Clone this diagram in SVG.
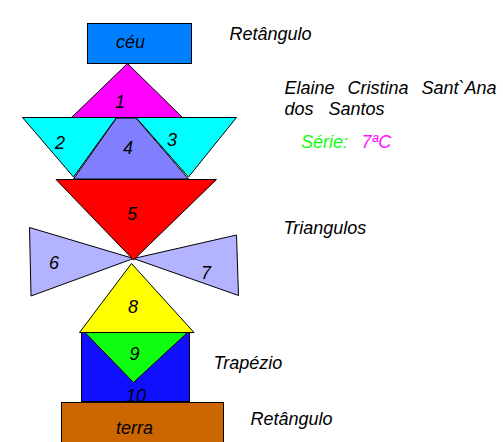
<svg xmlns="http://www.w3.org/2000/svg" width="503" height="442" viewBox="0 0 503 442">
<style>
.s{stroke:#000;stroke-width:1;stroke-linejoin:miter}
.t{font-family:"Liberation Sans",Arial,sans-serif;font-style:italic;font-size:18px;fill:#000}
.c{text-anchor:middle}
</style>
<rect width="503" height="442" fill="#ffffff"/>
<g id="ceu">
<rect class="s" x="87.5" y="23.5" width="104" height="40" fill="#0080FF"/>
<text class="t" x="116" y="48">céu</text>
</g>
<g id="t1">
<polygon class="s" points="127.5,63.5 182.5,117.5 71.5,117.5" fill="#FF00FF"/>
<text class="t c" x="120" y="107.5">1</text>
</g>
<g id="t2">
<polygon class="s" points="22.5,117.5 116.5,117.5 73.5,177" fill="#00FFFF"/>
<text class="t c" x="60" y="149">2</text>
</g>
<g id="t3">
<polygon class="s" points="136,117.5 236.5,117.5 188.5,177" fill="#00FFFF"/>
<text class="t c" x="172" y="145.5">3</text>
</g>
<g id="t4">
<polygon class="s" points="116.5,118 136,118 188.5,179 73.5,179" fill="#8080FF"/>
<line class="s" x1="71.5" y1="117.5" x2="182.5" y2="117.5"/>
<text class="t c" x="128" y="153.5">4</text>
</g>
<g id="t6">
<polygon class="s" points="29.5,227.5 133.5,258.5 31,296" fill="#B3B3FF"/>
<text class="t c" x="54" y="268.5">6</text>
</g>
<g id="t7">
<polygon class="s" points="236.5,235 238.5,295.5 133.5,258.5" fill="#B3B3FF"/>
<text class="t c" x="206" y="279">7</text>
</g>
<g id="t5">
<polygon class="s" points="56,179.5 216.5,179.5 133.5,260" fill="#FF0000"/>
<text class="t c" x="132" y="220">5</text>
</g>
<g id="r10">
<rect class="s" x="81.5" y="332.5" width="108" height="69" fill="#1010FF"/>
<text class="t c" x="136" y="401.5">10</text>
</g>
<g id="t9">
<polygon class="s" points="85,332.5 187.5,332.5 133.5,382.5" fill="#10FF10"/>
<text class="t c" x="134.5" y="360">9</text>
</g>
<g id="t8">
<polygon class="s" points="131.5,263.5 194,332.5 79.5,332.5" fill="#FFFF00"/>
<text class="t c" x="133" y="312.5">8</text>
</g>
<g id="terra">
<rect class="s" x="61.5" y="402.5" width="162" height="45" fill="#CC6600"/>
<text class="t" x="116" y="433.5">terra</text>
</g>
<g id="labels">
<text class="t" x="229.5" y="39.5">Retângulo</text>
<text class="t" x="284.5" y="94" word-spacing="8">Elaine Cristina Sant`Ana</text>
<text class="t" x="284.5" y="115" word-spacing="10">dos Santos</text>
<text class="t" x="301" y="148" style="fill:#10FF10">Série:</text>
<text class="t" x="361.5" y="148" style="fill:#FF10FF">7ªC</text>
<text class="t" x="283.5" y="233.5">Triangulos</text>
<text class="t" x="213.5" y="368.5">Trapézio</text>
<text class="t" x="250.5" y="424.5">Retângulo</text>
</g>
</svg>
